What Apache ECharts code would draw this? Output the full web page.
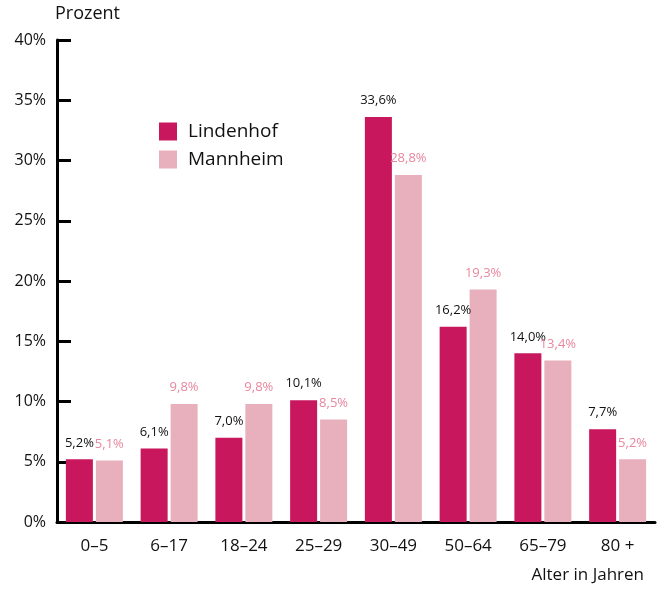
<!DOCTYPE html>
<html>
<head>
<meta charset="utf-8">
<script src="https://cdn.jsdelivr.net/npm/echarts@6/dist/echarts.min.js"></script>
<style>
html,body{margin:0;padding:0;background:#fff;}
#c{width:658px;height:591px;}
</style>
</head>
<body>
<div id="c"></div>
<script>
const categories = ['0–5', '6–17', '18–24', '25–29', '30–49', '50–64', '65–79', '80 +'];
const lindenhof = [5.2, 6.1, 7.0, 10.1, 33.6, 16.2, 14.0, 7.7];
const mannheim = [5.1, 9.8, 9.8, 8.5, 28.8, 19.3, 13.4, 5.2];
const yTicks = [0, 5, 10, 15, 20, 25, 30, 35, 40];

const FONT = '"Open Sans", Lato, sans-serif';
const fmt = p => String(p.value.toFixed(1)).replace('.', ',') + '%';

const chart = echarts.init(document.getElementById('c'), null, {renderer: 'canvas'});
chart.setOption({
  animation: false,
  textStyle: {fontFamily: FONT},
  grid: {left: 57, right: 3, top: 40, bottom: 69, containLabel: false},
  legend: {
    left: 159, top: 122, orient: 'vertical', itemWidth: 18, itemHeight: 18, itemGap: 9,
    padding: 0, icon: 'rect',
    textStyle: {fontSize: 19, color: '#111', fontFamily: FONT, padding: [0, 0, 0, 6]},
    data: ['Lindenhof', 'Mannheim']
  },
  graphic: [
    {type: 'text', left: 55, top: 5, style: {text: 'Prozent', fontSize: 18, fill: '#111', fontFamily: FONT}},
    {type: 'text', right: 14, top: 567, style: {text: 'Alter in Jahren', fontSize: 17, fill: '#111', fontFamily: FONT}}
  ],
  xAxis: {
    type: 'category', data: categories,
    axisLine: {lineStyle: {color: '#000', width: 3}},
    axisTick: {inside: true, length: 10, lineStyle: {color: '#000', width: 3}},
    axisLabel: {fontSize: 17, color: '#111', margin: 16, fontFamily: FONT}
  },
  yAxis: {
    type: 'value', min: yTicks[0], max: yTicks[yTicks.length - 1], interval: 5,
    axisLine: {show: true, lineStyle: {color: '#000', width: 3}},
    axisTick: {show: true, inside: true, length: 14, lineStyle: {color: '#000', width: 3}},
    axisLabel: {fontSize: 16, color: '#111', margin: 11, formatter: '{value}%', fontFamily: FONT},
    splitLine: {show: false}
  },
  series: [
    {
      name: 'Lindenhof', type: 'bar', data: lindenhof, barWidth: 27, barGap: '11%',
      itemStyle: {color: '#c8175d'},
      label: {show: true, position: 'top', distance: 10, fontSize: 13, color: '#111', formatter: fmt, fontFamily: FONT}
    },
    {
      name: 'Mannheim', type: 'bar', data: mannheim, barWidth: 27,
      itemStyle: {color: '#e8afbc'},
      label: {show: true, position: 'top', distance: 10, fontSize: 13, color: '#e8879e', formatter: fmt, fontFamily: FONT}
    }
  ]
});
</script>
</body>
</html>
